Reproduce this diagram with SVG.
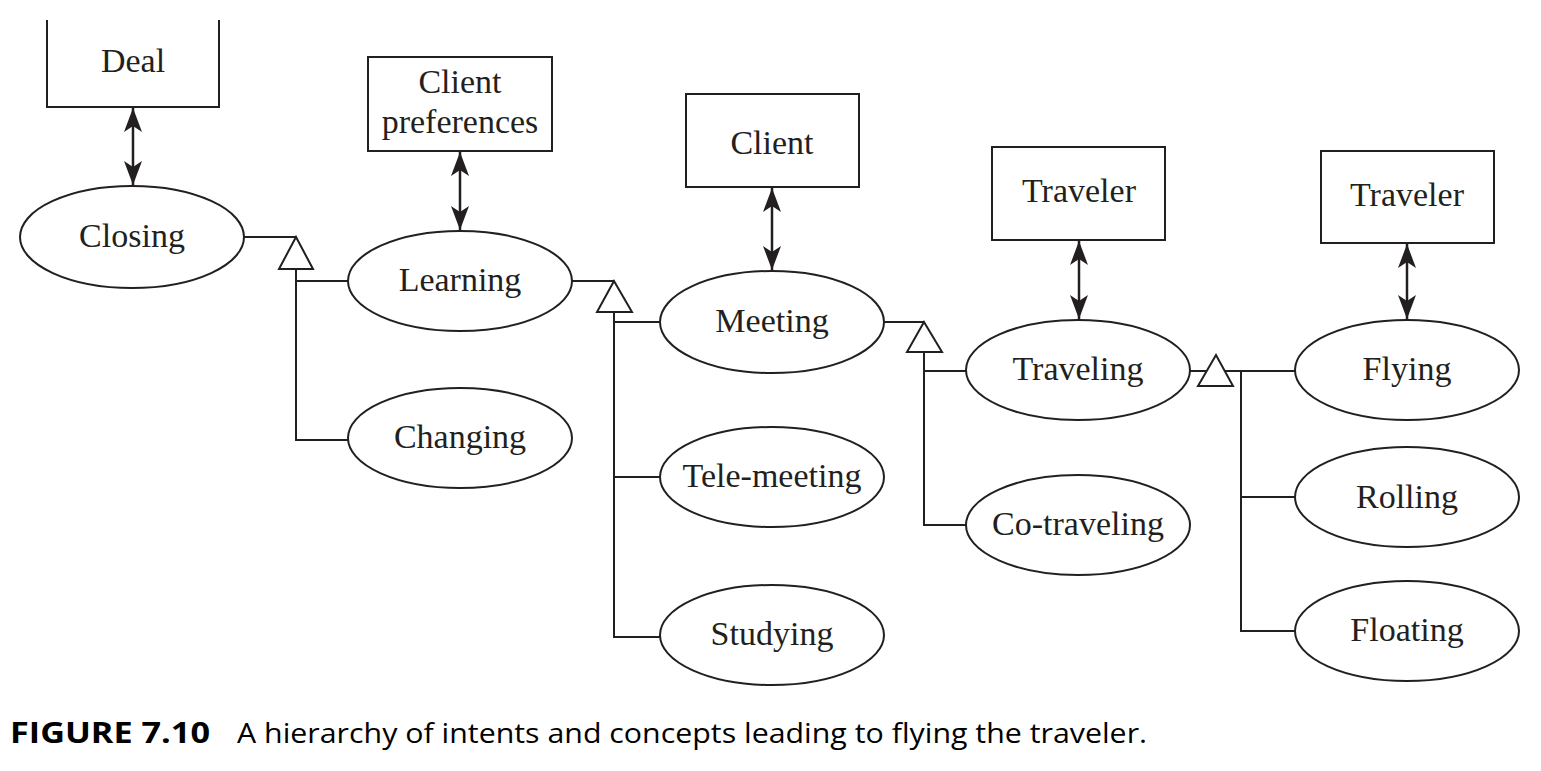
<svg xmlns="http://www.w3.org/2000/svg" width="1541" height="771" viewBox="0 0 1541 771">
<defs>
<style>
.box{fill:#fff;stroke:#231f20;stroke-width:2}
.ell{fill:#fff;stroke:#231f20;stroke-width:2}
.ln{fill:none;stroke:#231f20;stroke-width:2}
.tri{fill:#fff;stroke:#231f20;stroke-width:2}
.arr{fill:none;stroke:#231f20;stroke-width:2.5;marker-start:url(#ah);marker-end:url(#ah)}
.t{font-family:"Liberation Serif","Times New Roman",serif;font-size:34px;fill:#231f20;text-anchor:middle}
.cap{font-family:"Open Sans","Liberation Sans",sans-serif;font-size:28px;fill:#000}
</style>
<marker id="ah" viewBox="0 0 24 18" refX="24" refY="9" markerWidth="24" markerHeight="18" markerUnits="userSpaceOnUse" orient="auto-start-reverse">
<path d="M0,0 L24,9 L0,18 L6,9 z" fill="#231f20"/>
</marker>
</defs>
<g id="connectors">
<line class="arr" x1="133" y1="108" x2="133" y2="185"/>
<line class="arr" x1="460" y1="152" x2="460" y2="230"/>
<line class="arr" x1="772" y1="188" x2="772" y2="270"/>
<line class="arr" x1="1079" y1="241" x2="1079" y2="319"/>
<line class="arr" x1="1407" y1="244" x2="1407" y2="319"/>
<path class="ln" d="M244,237 H296 M296,269 V440 H348 M296,281 H348"/>
<polygon class="tri" points="296,237 279,269 313,269"/>
<path class="ln" d="M571,281 H614 M614,312 V637 H660 M614,322 H660 M614,477 H660"/>
<polygon class="tri" points="614,281 597,312 632,312"/>
<path class="ln" d="M884,322 H924 M924,352 V525 H967 M924,371 H967"/>
<polygon class="tri" points="924,322 907,352 942,352"/>
<path class="ln" d="M1190,371 H1296 M1241,371 V631 H1296 M1241,497 H1296"/>
<polygon class="tri" points="1216,355 1198,386 1233,386"/>
</g>
<g id="deal"><path class="box" d="M47,20 V107 H219 V20" style="fill:none"/><text class="t" x="133" y="72">Deal</text></g>
<g id="client-preferences"><rect class="box" x="368" y="57" width="184" height="94"/><text class="t" x="460" y="93">Client</text><text class="t" x="460" y="133">preferences</text></g>
<g id="client"><rect class="box" x="686" y="94" width="173" height="93"/><text class="t" x="772" y="154">Client</text></g>
<g id="traveler1"><rect class="box" x="992" y="147" width="173" height="93"/><text class="t" x="1079" y="202">Traveler</text></g>
<g id="traveler2"><rect class="box" x="1321" y="151" width="173" height="92"/><text class="t" x="1407" y="206">Traveler</text></g>
<g id="closing"><ellipse class="ell" cx="132" cy="237" rx="112" ry="51"/><text class="t" x="132" y="247">Closing</text></g>
<g id="learning"><ellipse class="ell" cx="460" cy="281" rx="112" ry="50"/><text class="t" x="460" y="291">Learning</text></g>
<g id="changing"><ellipse class="ell" cx="460" cy="438" rx="112" ry="50"/><text class="t" x="460" y="448">Changing</text></g>
<g id="meeting"><ellipse class="ell" cx="772" cy="322" rx="112" ry="51"/><text class="t" x="772" y="332">Meeting</text></g>
<g id="tele-meeting"><ellipse class="ell" cx="772" cy="477" rx="112" ry="50"/><text class="t" x="772" y="487">Tele-meeting</text></g>
<g id="studying"><ellipse class="ell" cx="772" cy="635" rx="112" ry="50"/><text class="t" x="772" y="645">Studying</text></g>
<g id="traveling"><ellipse class="ell" cx="1078" cy="370" rx="112" ry="50"/><text class="t" x="1078" y="380">Traveling</text></g>
<g id="co-traveling"><ellipse class="ell" cx="1078" cy="525" rx="112" ry="50"/><text class="t" x="1078" y="535">Co-traveling</text></g>
<g id="flying"><ellipse class="ell" cx="1407" cy="370" rx="112" ry="50"/><text class="t" x="1407" y="380">Flying</text></g>
<g id="rolling"><ellipse class="ell" cx="1407" cy="497" rx="112" ry="50"/><text class="t" x="1407" y="508">Rolling</text></g>
<g id="floating"><ellipse class="ell" cx="1407" cy="631" rx="112" ry="50"/><text class="t" x="1407" y="641">Floating</text></g>
<g id="caption">
<text class="cap" x="10" y="743" font-weight="bold" textLength="200" lengthAdjust="spacingAndGlyphs">FIGURE 7.10</text>
<text class="cap" x="237" y="743" textLength="910" lengthAdjust="spacingAndGlyphs">A hierarchy of intents and concepts leading to flying the traveler.</text>
</g>
</svg>
